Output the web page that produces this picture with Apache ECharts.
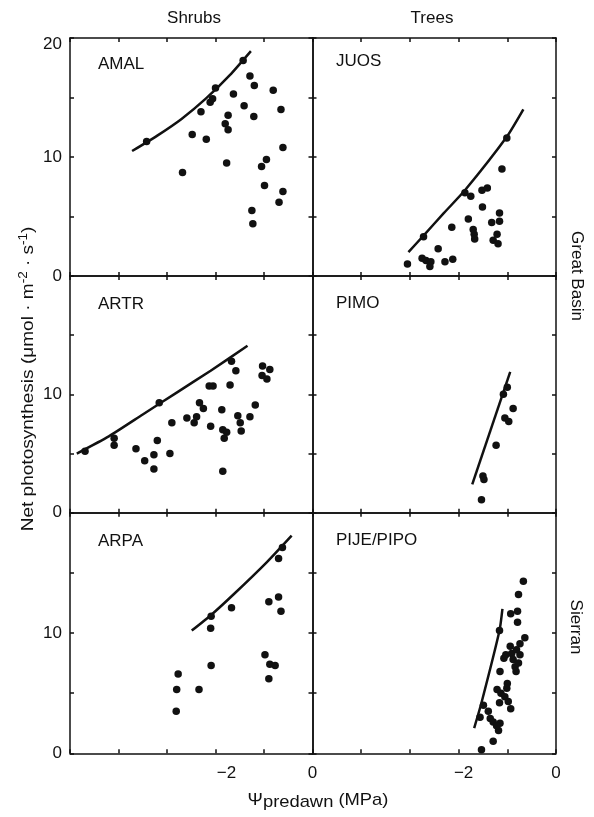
<!DOCTYPE html>
<html>
<head>
<meta charset="utf-8">
<script src="https://cdn.jsdelivr.net/npm/echarts@6/dist/echarts.min.js"></script>
<style>
  html, body { margin: 0; padding: 0; background: #fff; }
  #chart { width: 594px; height: 817px; }
</style>
</head>
<body>
<div id="chart"></div>
<script>
// values: [psi predawn (MPa), net photosynthesis]
const amalPoints = [[-3.42, 11.3], [-2.68, 8.7], [-2.48, 11.9], [-2.30, 13.8], [-2.19, 11.5], [-2.11, 14.6],
  [-2.06, 14.9], [-2.00, 15.8], [-1.80, 12.8], [-1.74, 13.5], [-1.74, 12.3], [-1.77, 9.5], [-1.63, 15.3],
  [-1.43, 18.1], [-1.41, 14.3], [-1.29, 16.8], [-1.20, 16.0], [-1.21, 13.4], [-1.25, 5.5], [-1.23, 4.4],
  [-1.05, 9.2], [-0.95, 9.8], [-0.99, 7.6], [-0.81, 15.6], [-0.65, 14.0], [-0.61, 10.8], [-0.61, 7.1], [-0.69, 6.2]]
const amalFit = [[-3.72, 10.5], [-3.2, 11.8], [-2.7, 13.2], [-2.2, 14.9], [-1.7, 16.9], [-1.27, 18.9]]

const juosPoints = [[-3.05, 1.0], [-2.72, 3.3], [-2.75, 1.5], [-2.67, 1.3], [-2.57, 1.2], [-2.59, 0.8], [-2.42, 2.3],
  [-2.28, 1.2], [-2.12, 1.4], [-2.14, 4.1], [-1.87, 7.0], [-1.75, 6.7], [-1.80, 4.8], [-1.70, 3.9], [-1.68, 3.5],
  [-1.67, 3.1], [-1.52, 7.2], [-1.41, 7.4], [-1.51, 5.8], [-1.32, 4.5], [-1.16, 5.3], [-1.16, 4.6], [-1.21, 3.5],
  [-1.29, 3.0], [-1.19, 2.7], [-1.11, 9.0], [-1.01, 11.6]]
const juosFit = [[-3.03, 2.0], [-2.72, 3.4], [-2.30, 5.3], [-1.87, 7.2], [-1.01, 11.7], [-0.67, 14.0]]

const artrPoints = [[-4.69, 5.2], [-4.09, 6.3], [-4.09, 5.7], [-3.64, 5.4], [-3.46, 4.4], [-3.27, 4.9], [-3.27, 3.7],
  [-3.20, 6.1], [-3.16, 9.3], [-2.94, 5.0], [-2.90, 7.6], [-2.59, 8.0], [-2.44, 7.6], [-2.39, 8.1], [-2.33, 9.3],
  [-2.25, 8.8], [-2.10, 7.3], [-2.13, 10.7], [-2.05, 10.7], [-1.87, 8.7], [-1.85, 7.0], [-1.82, 6.3], [-1.77, 6.8],
  [-1.85, 3.5], [-1.70, 10.8], [-1.67, 12.8], [-1.58, 12.0], [-1.54, 8.2], [-1.49, 7.6], [-1.47, 6.9], [-1.29, 8.1],
  [-1.18, 9.1], [-1.03, 12.4], [-1.04, 11.6], [-0.94, 11.3], [-0.88, 12.1]]
const artrFit = [[-4.86, 5.0], [-4.2, 6.45], [-3.5, 8.3], [-2.8, 10.15], [-2.1, 12.0], [-1.34, 14.1]]

const pimoPoints = [[-1.53, 1.1], [-1.50, 3.1], [-1.48, 2.8], [-1.23, 5.7], [-1.05, 8.0], [-0.97, 7.7],
  [-0.88, 8.8], [-1.08, 10.0], [-1.00, 10.6]]
const pimoFit = [[-1.72, 2.4], [-0.94, 11.9]]

const arpaPoints = [[-2.81, 3.5], [-2.80, 5.3], [-2.77, 6.6], [-2.34, 5.3], [-2.09, 11.4], [-2.10, 10.4], [-2.09, 7.3],
  [-1.67, 12.1], [-0.98, 8.2], [-0.88, 7.4], [-0.77, 7.3], [-0.90, 6.2], [-0.90, 12.6], [-0.70, 13.0], [-0.65, 11.8],
  [-0.70, 16.2], [-0.62, 17.1]]
const arpaFit = [[-2.49, 10.2], [-2.09, 11.5], [-1.63, 13.2], [-0.94, 15.9], [-0.43, 18.1]]

const pijePoints = [[-1.53, 0.3], [-1.29, 1.0], [-1.56, 3.0], [-1.49, 4.0], [-1.39, 3.5], [-1.35, 2.9], [-1.29, 2.6],
  [-1.18, 1.9], [-1.15, 2.5], [-1.22, 2.3], [-1.16, 10.2], [-1.15, 6.8], [-1.21, 5.3], [-1.13, 5.0], [-1.16, 4.2],
  [-1.05, 4.7], [-1.00, 5.8], [-1.01, 5.4], [-0.98, 4.3], [-0.93, 3.7], [-1.07, 7.9], [-1.03, 8.2], [-0.94, 8.9],
  [-0.91, 8.3], [-0.88, 7.8], [-0.84, 7.2], [-0.82, 6.8], [-0.77, 7.5], [-0.74, 8.2], [-0.74, 9.1], [-0.64, 9.6],
  [-0.93, 11.6], [-0.79, 11.8], [-0.79, 10.9], [-0.77, 13.2], [-0.67, 14.3], [-0.81, 8.6]]
const pijeFit = [[-1.68, 2.1], [-1.53, 4.2], [-1.16, 10.2], [-1.10, 12.0]]

const panelNames = ['AMAL', 'JUOS', 'ARTR', 'PIMO', 'ARPA', 'PIJE/PIPO']
const panelPoints = [amalPoints, juosPoints, artrPoints, pimoPoints, arpaPoints, pijePoints]
const panelFits = [amalFit, juosFit, artrFit, pimoFit, arpaFit, pijeFit]
const columnTitles = ['Shrubs', 'Trees']
const regionTitles = ['Great Basin', 'Sierran']
const yTickLabels = [0, 10, 20]
const xTickLabels = [-2, 0]

// layout (px)
const colLeft = [70, 312.5]
const colWidth = [242.5, 243.5]
const rowTop = [38, 276, 512.7]
const rowHeight = [238, 236.7, 240.6]
const labelTop = [64, 61, 304, 303, 541, 540]

const FONT = '"Liberation Sans", Arial, Helvetica, sans-serif'
const ink = '#111'

const chart = echarts.init(document.getElementById('chart'), null, { renderer: 'canvas' })

const grids = []
const xAxes = []
const yAxes = []
const series = []

panelNames.forEach((name, i) => {
  const row = Math.floor(i / 2)
  const col = i % 2
  grids.push({ left: colLeft[col], top: rowTop[row], width: colWidth[col], height: rowHeight[row] })

  const line = { onZero: false, lineStyle: { color: ink, width: 1.5 } }
  const tick = { inside: true, length: 4, lineStyle: { color: ink, width: 1.5 } }

  // bottom + top x axes
  xAxes.push({
    gridIndex: i, type: 'value', position: 'bottom', min: -5, max: 0, interval: 1,
    axisLine: line, axisTick: tick, splitLine: { show: false },
    axisLabel: {
      show: row === 2, margin: 12, color: ink, fontFamily: FONT, fontSize: 17,
      formatter: v => {
        if (!xTickLabels.includes(v)) return ''
        if (v === 0) return '0'
        return col === 0 ? '{s|−2}' : '{r|−2}'
      },
      rich: { s: { padding: [0, 0, 0, 22], fontSize: 17, fontFamily: FONT }, r: { padding: [0, 0, 0, 10], fontSize: 17, fontFamily: FONT } }
    }
  })
  xAxes.push({
    gridIndex: i, type: 'value', position: 'top', min: -5, max: 0, interval: 1,
    axisLine: line, axisTick: tick, splitLine: { show: false }, axisLabel: { show: false }
  })

  // left + right y axes
  yAxes.push({
    gridIndex: i, type: 'value', position: 'left', min: 0, max: 20, interval: 5,
    axisLine: line, axisTick: tick, splitLine: { show: false },
    axisLabel: {
      show: col === 0, margin: 8, color: ink, fontFamily: FONT, fontSize: 17,
      formatter: v => {
        if (!yTickLabels.includes(v)) return ''
        if (v === 20) return row === 0 ? '{t|20}' : ''
        return String(v)
      },
      rich: { t: { padding: [12, 0, 0, 0], fontSize: 17, fontFamily: FONT } }
    }
  })
  yAxes.push({
    gridIndex: i, type: 'value', position: 'right', min: 0, max: 20, interval: 5,
    axisLine: line, axisTick: tick, splitLine: { show: false }, axisLabel: { show: false }
  })

  series.push({
    type: 'scatter', xAxisIndex: 2 * i, yAxisIndex: 2 * i,
    data: panelPoints[i], symbolSize: 7.5, itemStyle: { color: ink, opacity: 1 }, silent: true
  })
  series.push({
    type: 'line', xAxisIndex: 2 * i, yAxisIndex: 2 * i,
    data: panelFits[i], showSymbol: false, smooth: 0.2,
    lineStyle: { color: ink, width: 2.5 }, silent: true
  })
})

const text = (x, y, str, extra = {}) => ({
  type: 'text', x, y, silent: true,
  style: { text: str, font: `17px ${FONT}`, fill: ink, align: 'center', verticalAlign: 'middle', ...extra.style },
  ...extra.el
})

const graphic = [
  text(194, 18, columnTitles[0]),
  text(432, 18, columnTitles[1]),
  text(577, 276, regionTitles[0], { el: { rotation: -Math.PI / 2 } }),
  text(576, 627, regionTitles[1], { el: { rotation: -Math.PI / 2 } }),
  // y title
  {
    type: 'text', x: 28, y: 379, rotation: Math.PI / 2, scaleX: 1.12, silent: true,
    style: {
      text: 'Net photosynthesis ({n|μmol · m}{p|-2}{n| · s}{p|-1}{n|)}',
      font: `17px ${FONT}`, fill: ink, align: 'center', verticalAlign: 'middle',
      rich: {
        n: { fontSize: 17, fontFamily: FONT, lineHeight: 20, verticalAlign: 'middle' },
        p: { fontSize: 12, fontFamily: FONT, lineHeight: 10, verticalAlign: 'top' }
      }
    }
  },
  // x title
  {
    type: 'text', x: 318, y: 800, scaleX: 1.08, silent: true,
    style: {
      text: '{n|Ψ}{s|predawn}{n| (MPa)}',
      font: `17px ${FONT}`, fill: ink, align: 'center', verticalAlign: 'middle',
      rich: {
        n: { fontSize: 17, fontFamily: FONT, lineHeight: 22, verticalAlign: 'middle' },
        s: { fontSize: 17, fontFamily: FONT, lineHeight: 18, verticalAlign: 'bottom' }
      }
    }
  }
]

panelNames.forEach((name, i) => {
  const col = i % 2
  graphic.push(text(col === 0 ? 98 : 336, labelTop[i], name, { style: { align: 'left' } }))
})

chart.setOption({
  animation: false,
  backgroundColor: '#fff',
  grid: grids,
  xAxis: xAxes,
  yAxis: yAxes,
  series,
  graphic
})
</script>
</body>
</html>
